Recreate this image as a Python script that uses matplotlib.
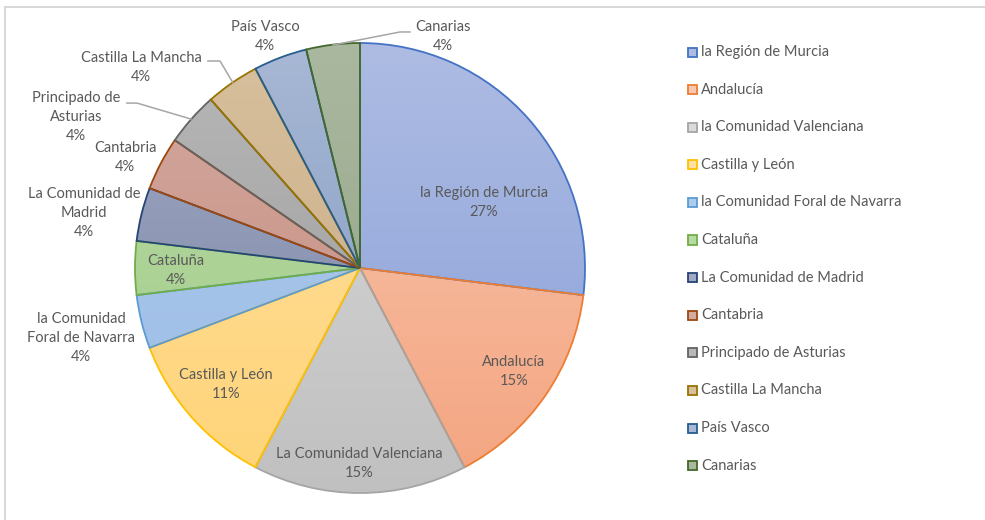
import numpy as np
import matplotlib.pyplot as plt
from matplotlib.colors import LinearSegmentedColormap
from matplotlib.patches import Rectangle
from matplotlib.lines import Line2D

regions = ['la Región de Murcia', 'Andalucía', 'la Comunidad Valenciana', 'Castilla y León',
           'la Comunidad Foral de Navarra', 'Cataluña', 'La Comunidad de Madrid', 'Cantabria',
           'Principado de Asturias', 'Castilla La Mancha', 'País Vasco', 'Canarias']
counts = [7, 4, 4, 3, 1, 1, 1, 1, 1, 1, 1, 1]
# percentages as printed on the chart
pct_shown = [27, 15, 15, 11, 4, 4, 4, 4, 4, 4, 4, 4]

# slice label text (Excel wraps the long names)
slice_labels = ['la Región de Murcia', 'Andalucía', 'La Comunidad Valenciana', 'Castilla y León',
                'la Comunidad\nForal de Navarra', 'Cataluña', 'La Comunidad de\nMadrid', 'Cantabria',
                'Principado de\nAsturias', 'Castilla La Mancha', 'País Vasco', 'Canarias']

edge_colors = ['#4472C4', '#ED7D31', '#A5A5A5', '#FFC000', '#5B9BD5', '#70AD47',
               '#264478', '#9E480E', '#636363', '#997300', '#255E91', '#43682B']
top_colors = ['#AEBCE3', '#F8C8B2', '#DADADA', '#FFE0A3', '#AECBEC', '#B8D9A4',
              '#A0A8C2', '#D4ABA1', '#B8B8B8', '#D8C09E', '#A8B8D5', '#ABB8A0']
bot_colors = ['#879FD8', '#F4A47F', '#C0C0C0', '#FFD477', '#9CBCE6', '#A2CC89',
              '#7A86A7', '#C4877A', '#989898', '#C6A87E', '#7E97BE', '#8DA181']

# label centres in pie units (radius = 1)
label_pos = [(0.551, 0.293), (0.684, -0.462), (-0.004, -0.867), (-0.596, -0.516),
             (-1.24, -0.311), (-0.818, -0.009), (-1.227, 0.244), (-1.044, 0.489),
             (-1.262, 0.671), (-0.973, 0.893), (-0.422, 1.027), (0.369, 1.027)]
leaders = {8: [(-1.036, 0.733), (-0.991, 0.733), (-0.751, 0.662)],
           9: [(-0.676, 0.92), (-0.622, 0.92), (-0.564, 0.822)],
           11: [(0.222, 1.049), (0.178, 1.049), (-0.12, 0.991)]}

plt.rcParams['font.family'] = ['Lato', 'DejaVu Sans']
txt_color = '#595959'

W, H = 985, 520
fig = plt.figure(figsize=(W / 100, H / 100), dpi=100)
cx, cy, r = 360, 268, 225
ax = fig.add_axes([(cx - r) / W, (H - cy - r) / H, 2 * r / W, 2 * r / H])

wedges, _ = ax.pie(counts, startangle=90, counterclock=False, radius=1,
                   wedgeprops=dict(linewidth=1.3))
grad = np.linspace(0, 1, 256).reshape(-1, 1)
for i, w in enumerate(wedges):
    w.set_facecolor('none')
    w.set_edgecolor(edge_colors[i])
    w.set_zorder(3)
    cmap = LinearSegmentedColormap.from_list('g%d' % i, [top_colors[i], bot_colors[i]])
    im = ax.imshow(grad, cmap=cmap, extent=(-1, 1, -1, 1), aspect='auto', origin='upper', zorder=2)
    im.set_clip_path(w)
    x, y = label_pos[i]
    ax.text(x, y, '%s\n%d%%' % (slice_labels[i], pct_shown[i]), ha='center', va='center',
            fontsize=10.5, color=txt_color, linespacing=1.45, zorder=5, clip_on=False)

for i, pts in leaders.items():
    xs, ys = zip(*pts)
    ax.plot(xs, ys, color='#A6A6A6', lw=1.1, clip_on=False, zorder=4)

ax.set_xlim(-1, 1)
ax.set_ylim(-1, 1)
ax.set_aspect('auto')
ax.axis('off')

# legend drawn at the right
leg_x, leg_y0, leg_dy = 692, 52, 37.6
for i, name in enumerate(regions):
    y = leg_y0 + i * leg_dy
    fig.add_artist(Rectangle(((leg_x - 4.5) / W, 1 - (y + 4.5) / H), 9 / W, 9 / H,
                             transform=fig.transFigure, facecolor=top_colors[i],
                             edgecolor=edge_colors[i], lw=1.3))
    fig.text((leg_x + 9) / W, 1 - y / H, name, ha='left', va='center', fontsize=10.5,
             color=txt_color)

# chart area border (top and left visible)
fig.add_artist(Line2D([5 / W, 1], [1 - 7 / H, 1 - 7 / H], transform=fig.transFigure,
                      color='#D9D9D9', lw=1.5))
fig.add_artist(Line2D([5 / W, 5 / W], [0, 1 - 7 / H], transform=fig.transFigure,
                      color='#D9D9D9', lw=1.5))

fig.savefig('out.png', dpi=100)
